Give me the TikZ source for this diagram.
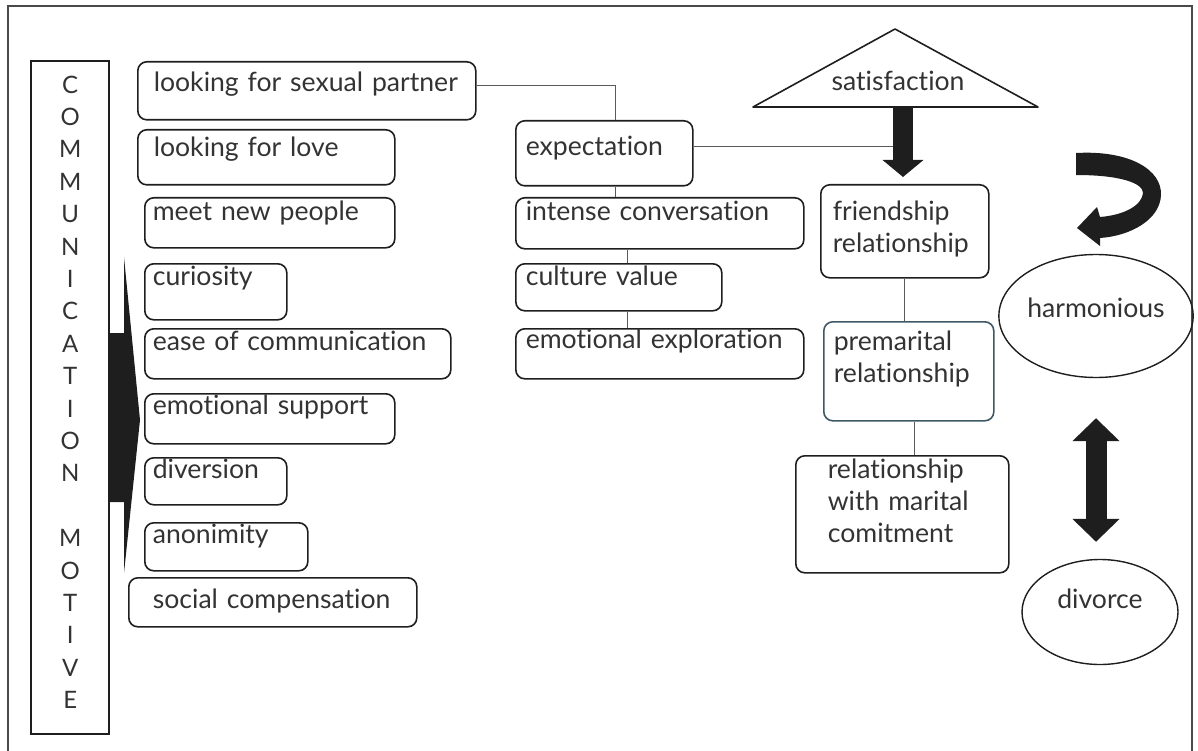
\documentclass[tikz,border=0pt]{standalone}
\usepackage{fontspec}
\setmainfont{Lato}[Ligatures=NoCommon]
\usetikzlibrary{shapes.geometric,arrows.meta,positioning,calc}

\definecolor{ink}{HTML}{333333}
\definecolor{ink2}{HTML}{1E1E1E}
\definecolor{linkc}{HTML}{5A5A5A}
\definecolor{premline}{HTML}{3F5866}
\definecolor{framec}{HTML}{4A4A4A}

\tikzset{
  box/.style={draw=ink2, line width=1.6, rounded corners=9, anchor=north west, align=left,
    inner ysep=0, font=\fontsize{26.6}{32}\selectfont},
  titlebox/.style={draw=ink2, line width=2.4, anchor=north west, inner sep=0, text width=78,
    align=center, font=\fontsize{24}{32.4}\selectfont},
  oval/.style={ellipse, draw=ink2, line width=1.4, inner sep=0, font=\fontsize{26.6}{32}\selectfont},
  link/.style={draw=linkc, line width=1.1},
  fatarrow/.style={line width=20, ink2, -{Triangle[length=17,width=40]}},
  bothway/.style={line width=21, ink2, {Triangle[length=23,width=46]}-{Triangle[length=23,width=46]}},
}

\begin{document}
\begin{tikzpicture}[x=1pt, y=-1pt, every node/.style={text=ink}]
\useasboundingbox (0,0) rectangle (1198,751);
% frame
\draw[framec, line width=1.8] (8,751) -- (8,6) -- (1192,6) -- (1192,751);

% Motive column
\node[titlebox, text height=32, text depth=641] (motive) at (30,60)
  {C\\O\\M\\M\\U\\N\\I\\C\\A\\T\\I\\O\\N\\[32.4pt]M\\O\\T\\I\\V\\E};
\fill[ink2] (108,333) -- (124,333) -- (124,257) -- (140,420) -- (124,573) -- (124,502) -- (108,502) -- cycle;

% Motives
\node[box, inner xsep=16, text width=306, text height=30, text depth=28] (sexual) at (137,61) {looking for sexual partner};
\node[box, inner xsep=16, text width=225, text height=27, text depth=28] (love) at (137,129) {looking for love};
\node[box, inner xsep=8, text width=234, text height=23, text depth=27] (people) at (144,197) {meet new people};
\node[box, inner xsep=8, text width=126, text height=22, text depth=34] (curio) at (144,263) {curiosity};
\node[box, inner xsep=8, text width=290, text height=22, text depth=28] (ease) at (144,328) {ease of communication};
\node[box, inner xsep=8, text width=234, text height=21, text depth=29] (support) at (144,393) {emotional support};
\node[box, inner xsep=8, text width=126, text height=21, text depth=26] (divers) at (144,457) {diversion};
\node[box, inner xsep=8, text width=147, text height=21, text depth=27] (anon) at (144,522) {anonimity};
\node[box, inner xsep=24, text width=240, text height=31, text depth=18] (social) at (128,577) {\mbox{social compensation}};

% Middle column
\node[box, inner xsep=10, text width=157, text height=35, text depth=30] (expect) at (515,120) {expectation};
\node[box, inner xsep=10, text width=268, text height=23, text depth=28] (intense) at (515,197) {intense conversation};
\node[box, inner xsep=10, text width=186, text height=22, text depth=25] (culture) at (515,263) {culture value};
\node[box, inner xsep=10, text width=268, text height=20, text depth=30] (emoexp) at (515,328) {emotional exploration};

% Relationship column
\node[box, inner xsep=12, text width=144, text height=36, text depth=57] (friend) at (820,184) {friendship\\relationship};
\node[box, draw=premline, inner xsep=10, text width=150, text height=29, text depth=70] (prem) at (823,321) {premarital\\relationship};
\node[box, inner xsep=32, text width=149, text height=23, text depth=94] (marital) at (795,455) {relationship\\with marital\\comitment};

% Satisfaction
\draw[ink2, line width=1.6, line join=round] (753,107) -- (895,29) -- (1038,107) -- cycle;
\node[anchor=base, font=\fontsize{26.6}{32}\selectfont] (sat) at (898,91) {satisfaction};
\coordinate (satbase) at (903,107);

% Outcomes
\node[oval, minimum width=181, minimum height=123, text height=17, text depth=15] (harm) at (1096,316) {harmonious};
\node[oval, minimum width=156, minimum height=105, text height=17, text depth=25] (div) at (1100,612) {divorce};

% Links
\draw[link] ([yshift=5]sexual.east) -| ([xshift=11.5]expect.north);
\draw[link] ([xshift=11.5]expect.south) -- ([xshift=11.5]expect.south |- intense.north);
\draw[link] ([xshift=9]culture.north) -- ([xshift=9]culture.north |- intense.south);
\draw[link] ([xshift=9]culture.south) -- ([xshift=9]culture.south |- emoexp.north);
\draw[link] ([yshift=7]expect.east) -- ([yshift=7]expect.east -| satbase);
\draw[link] (friend.south) -- (friend.south |- prem.north);
\draw[link] ([xshift=6]prem.south) -- ([xshift=6]prem.south |- marital.north);

% Arrows
\draw[fatarrow, shorten >=7] (satbase) -- (satbase |- friend.north);
\draw[bothway, shorten <=40, shorten >=17] (harm.south) -- (harm.south |- div.north);
\fill[ink2] (1076,153) .. controls (1130,150) and (1162,170) .. (1161,195)
  .. controls (1160,220) and (1130,236) .. (1100,238) -- (1100,246) -- (1077,228) -- (1097,207)
  -- (1100,217) .. controls (1125,215) and (1142,205) .. (1143,193)
  .. controls (1143,183) and (1120,175) .. (1076,175) -- cycle;
\end{tikzpicture}
\end{document}
